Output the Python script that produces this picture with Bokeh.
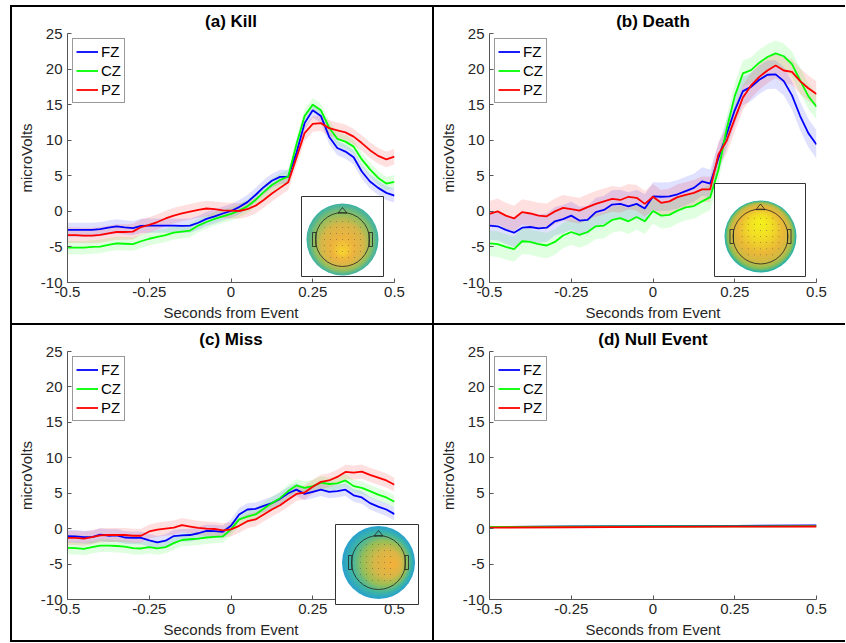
import numpy as np
from bokeh.plotting import figure
from bokeh.models import Range1d, FixedTicker, Legend, LegendItem, Div, Spacer
from bokeh.layouts import row, column
from bokeh.embed import file_html
from bokeh.resources import INLINE

# ---------------- data ----------------
time_s = np.round(np.arange(41) * 0.025 - 0.5, 3).tolist()
channels = ["FZ", "CZ", "PZ"]

kill_fz = [-2.6, -2.6, -2.6, -2.6, -2.5, -2.3, -2.1, -2.25, -2.35, -2.05, -2.0, -2.0, -2.0, -2.0,
           -2.05, -2.0, -1.6, -1.05, -0.7, -0.3, 0.05, 0.6, 1.3, 2.3, 3.4, 4.3, 4.85, 4.85, 8.2,
           12.4, 14.2, 13.4, 10.5, 8.9, 8.4, 7.6, 5.6, 4.2, 3.3, 2.6, 2.2]
kill_cz = [-5.1, -5.1, -5.1, -5.0, -4.95, -4.7, -4.5, -4.55, -4.6, -4.2, -3.85, -3.6, -3.35, -3.0,
           -2.85, -2.7, -2.0, -1.5, -1.05, -0.7, -0.35, 0.1, 0.7, 1.6, 2.7, 3.7, 4.4, 4.9, 9.4,
           13.4, 15.0, 14.2, 11.8, 10.2, 9.8, 9.1, 7.3, 5.9, 4.7, 3.9, 4.15]
kill_pz = [-3.35, -3.35, -3.4, -3.4, -3.3, -3.1, -2.9, -2.9, -2.85, -2.2, -1.9, -1.5, -1.0, -0.6,
           -0.3, -0.05, 0.2, 0.4, 0.3, 0.15, 0.1, 0.05, 0.3, 0.8, 1.6, 2.5, 3.3, 4.1, 7.5,
           11.0, 12.3, 12.4, 11.7, 11.4, 11.1, 10.5, 9.6, 8.6, 7.8, 7.3, 7.7]

death_fz = [-2.0, -2.1, -2.6, -3.0, -2.3, -2.2, -2.4, -2.3, -1.4, -1.1, -0.6, -1.3, -1.2, -0.1,
            0.2, 0.95, 1.05, 0.7, 1.05, 0.4, 2.1, 2.05, 2.1, 2.4, 2.85, 3.3, 4.2, 3.9, 7.5,
            10.8, 14.2, 16.9, 17.5, 18.5, 19.2, 19.25, 18.3, 16.3, 13.4, 11.0, 9.4]
death_cz = [-4.5, -4.6, -5.0, -5.3, -4.2, -4.3, -4.6, -4.8, -4.3, -3.4, -2.9, -3.3, -2.9, -2.1,
            -2.0, -1.2, -0.95, -1.4, -0.8, -1.4, 0.05, -0.6, -0.5, 0.1, 0.55, 0.75, 1.4, 2.0, 5.8,
            11.5, 16.2, 19.4, 19.85, 20.9, 21.7, 22.2, 21.8, 20.7, 18.4, 16.2, 14.7]
death_pz = [-0.35, 0.0, -0.6, -1.0, -0.1, -0.3, -0.6, -0.7, 0.0, 0.5, 0.3, 0.1, 0.6, 1.05,
            1.4, 1.75, 1.6, 2.05, 1.9, 1.05, 2.05, 1.2, 1.4, 2.0, 2.3, 2.6, 3.1, 3.1, 8.0,
            9.9, 13.0, 16.0, 17.7, 18.9, 19.8, 20.5, 19.8, 19.6, 18.3, 17.3, 16.5]

miss_fz = [-1.05, -1.1, -1.2, -1.2, -0.85, -1.0, -0.95, -1.25, -1.3, -1.3, -1.65, -1.95, -1.7, -1.05,
           -0.95, -0.9, -0.65, -0.3, -0.35, -0.45, 0.4, 2.0, 2.7, 2.8, 3.2, 3.6, 4.2, 5.0, 5.5,
           4.9, 5.2, 5.5, 5.2, 5.3, 5.5, 4.7, 4.4, 3.6, 3.1, 2.7, 2.05]
miss_cz = [-2.7, -2.75, -2.85, -2.6, -2.4, -2.4, -2.45, -2.55, -2.75, -2.8, -2.6, -2.8, -2.6, -2.05,
           -1.6, -1.5, -1.4, -1.25, -1.15, -1.1, -0.1, 1.3, 1.7, 2.0, 2.8, 3.6, 4.3, 5.3, 6.1,
           5.75, 6.0, 6.5, 6.3, 6.4, 6.8, 6.0, 5.75, 5.3, 4.8, 4.4, 3.8]
miss_pz = [-1.3, -1.3, -1.4, -1.2, -0.95, -0.9, -0.9, -0.9, -1.0, -1.0, -0.4, -0.15, 0.0, 0.15,
           0.5, 0.3, 0.1, 0.0, -0.05, -0.25, -0.1, 0.4, 1.05, 1.3, 2.0, 2.7, 3.3, 4.1, 4.9,
           5.1, 5.9, 6.6, 6.8, 7.3, 8.0, 7.9, 8.05, 7.6, 7.2, 6.8, 6.2]

null_time = [-0.5, -0.25, 0.0, 0.25, 0.5]
null_fz = [0.25, 0.3, 0.35, 0.4, 0.45]
null_cz = [0.25, 0.28, 0.3, 0.32, 0.35]
null_pz = [0.15, 0.2, 0.25, 0.28, 0.3]

kill_sem = [1.0, 0.95, 1.1]
death_sem = [2.0, 1.8, 1.8]
miss_sem = [0.9, 0.9, 1.0]
null_sem = [0.1, 0.1, 0.1]

titles = ["(a) Kill", "(b) Death", "(c) Miss", "(d) Null Event"]
x_ticks = [-0.5, -0.25, 0, 0.25, 0.5]
x_tick_labels = ["-0.5", "-0.25", "0", "0.25", "0.5"]
y_ticks = [-10, -5, 0, 5, 10, 15, 20, 25]
y_tick_labels = ["-10", "-5", "0", "5", "10", "15", "20", "25"]
x_label = "Seconds from Event"
y_label = "microVolts"

# ---------------- style ----------------
FONT = "Liberation Sans"
COLORS = ["#0000ff", "#00ff00", "#ff0000"]
AXIS_COL = "#555555"
TXT_COL = "#262626"


def hex2rgb(h):
    h = h.lstrip("#")
    return [int(h[i:i + 2], 16) for i in (0, 2, 4)]


def interp_color(stops, f):
    for (p0, c0), (p1, c1) in zip(stops[:-1], stops[1:]):
        if p0 <= f <= p1:
            w = (f - p0) / (p1 - p0) if p1 > p0 else 0
            a, b = hex2rgb(c0), hex2rgb(c1)
            rgb = [int(round(a[k] + (b[k] - a[k]) * w)) for k in range(3)]
            return "#%02x%02x%02x" % tuple(rgb)
    return stops[-1][1]


def add_topo(p, box, center, R, rh, stops, hot):
    kw = dict(x_range_name="ix", y_range_name="iy", level="annotation")
    bx0, by0, bx1, by1 = box
    cx, cy = center
    p.quad(left=[bx0], right=[bx1], bottom=[by0], top=[by1], fill_color="white",
           line_color="#333333", line_width=1, **kw)
    N = 36
    xs, ys, sz, cols = [], [], [], []
    for i in range(N):
        f = i / (N - 1)
        r = R * (1 - 0.95 * f)
        xs.append(cx + hot[0] * R * f)
        ys.append(cy + hot[1] * R * f)
        sz.append(2 * r)
        cols.append(interp_color(stops, f))
    p.scatter(x=xs, y=ys, size=sz, fill_color=cols, line_color=None, marker="circle", **kw)
    # electrode dots
    sp = rh / 4.5
    dx, dy = [], []
    for i in range(-5, 6):
        for j in range(-5, 6):
            if (i * sp) ** 2 + (j * sp) ** 2 < (0.86 * rh) ** 2:
                dx.append(cx + i * sp)
                dy.append(cy + j * sp)
    p.scatter(x=dx, y=dy, size=1.0, fill_color="#444444", fill_alpha=0.6, line_color=None,
              marker="circle", **kw)
    # head outline, nose, ears
    p.scatter(x=[cx], y=[cy], size=2 * rh, fill_color=None, line_color="#222222",
              line_width=0.8, marker="circle", **kw)
    p.patch(x=[cx - 4.5, cx, cx + 4.5], y=[cy + rh - 0.6, cy + rh + 5, cy + rh - 0.6],
            fill_color=None, line_color="#222222", line_width=0.8, **kw)
    p.quad(left=[cx - rh - 3, cx + rh - 0.5], right=[cx - rh + 0.5, cx + rh + 3],
           bottom=[cy - 7, cy - 7], top=[cy + 7, cy + 7], fill_color=None,
           line_color="#222222", line_width=0.8, **kw)


def make_panel(title, times, series, sems, width, height, left, right, top, bottom, topo=None):
    p = figure(width=width, height=height, x_range=Range1d(-0.5, 0.5), y_range=Range1d(-10, 25),
               output_backend="svg", toolbar_location=None, title=title,
               min_border_left=left, min_border_right=right, min_border_top=top,
               min_border_bottom=bottom, outline_line_color=None,
               background_fill_color="white", border_fill_color="white")
    p.title.align = "center"
    p.title.text_font = FONT
    p.title.text_font_size = "17px"
    p.title.text_font_style = "bold"
    p.title.text_color = "black"
    try:
        p.title.standoff = 5
    except AttributeError:
        pass
    p.xgrid.visible = False
    p.ygrid.visible = False

    p.xaxis.ticker = FixedTicker(ticks=x_ticks)
    p.xaxis.major_label_overrides = {float(k): v for k, v in zip(x_ticks, x_tick_labels)}
    p.yaxis.ticker = FixedTicker(ticks=y_ticks)
    p.yaxis.major_label_overrides = {float(k): v for k, v in zip(y_ticks, y_tick_labels)}
    p.xaxis.axis_label = x_label
    p.yaxis.axis_label = y_label
    for ax in (p.xaxis, p.yaxis):
        ax.axis_line_color = AXIS_COL
        ax.axis_line_width = 1
        ax.major_tick_line_color = AXIS_COL
        ax.major_tick_in = 4
        ax.major_tick_out = 0
        ax.minor_tick_in = 0
        ax.minor_tick_out = 0
        ax.major_label_text_font = FONT
        ax.major_label_text_font_size = "15px"
        ax.major_label_text_color = TXT_COL
        ax.axis_label_text_font = FONT
        ax.axis_label_text_font_size = "15px"
        ax.axis_label_text_font_style = "normal"
        ax.axis_label_text_color = TXT_COL
    p.xaxis.major_label_standoff = 4
    p.yaxis.major_label_standoff = 5
    p.xaxis.axis_label_standoff = 4
    p.yaxis.axis_label_standoff = 3

    fw = width - left - right
    fh = height - top - bottom
    p.extra_x_ranges = {"ix": Range1d(0, fw)}
    p.extra_y_ranges = {"iy": Range1d(0, fh)}

    for vals, sem, col in zip(series, sems, COLORS):
        lo = [v - sem for v in vals]
        hi = [v + sem for v in vals]
        p.varea(x=times, y1=lo, y2=hi, fill_color=col, fill_alpha=0.12)
    items = []
    for vals, col, name in zip(series, COLORS, channels):
        r = p.line(times, vals, line_color=col, line_width=1.8)
        items.append(LegendItem(label=name, renderers=[r]))
    leg = Legend(items=items, location="top_left", margin=5, padding=3, spacing=0,
                 glyph_width=22, glyph_height=19, label_height=19, label_standoff=3,
                 label_text_font=FONT, label_text_font_size="15px", label_text_color="black",
                 border_line_color="#333333", border_line_width=1,
                 background_fill_color="white", background_fill_alpha=1.0)
    p.add_layout(leg)

    if topo is not None:
        add_topo(p, **topo)
    return p


topo_a = dict(box=(234, 6, 316, 86), center=(275, 43), R=36, rh=27,
              stops=[(0, "#41b3a3"), (0.2, "#8fbf60"), (0.42, "#d6b749"), (0.7, "#edb33f"),
                     (1.0, "#f7d130")], hot=(0.0, -0.35))
topo_b = dict(box=(225, 6, 316, 99), center=(271, 46), R=36, rh=27.5,
              stops=[(0, "#2bb3a8"), (0.07, "#88be55"), (0.18, "#cdb944"), (0.38, "#eab838"),
                     (0.68, "#f1dc26"), (1.0, "#f4f01c")], hot=(0.0, 0.4))
topo_c = dict(box=(268, -5, 351, 75), center=(311, 37), R=36.5, rh=27,
              stops=[(0, "#2aa2cc"), (0.18, "#3fb6a3"), (0.4, "#98bf57"), (0.65, "#d8b748"),
                     (1.0, "#f3b13b")], hot=(0.4, -0.05))

W_L, W_R = 420, 411
H_T, H_B = 316, 315

pa = make_panel(titles[0], time_s, [kill_fz, kill_cz, kill_pz], kill_sem,
                W_L, H_T, 55, 38, 26, 41, topo_a)
pb = make_panel(titles[1], time_s, [death_fz, death_cz, death_pz], death_sem,
                W_R, H_T, 55, 29, 26, 41, topo_b)
pc = make_panel(titles[2], time_s, [miss_fz, miss_cz, miss_pz], miss_sem,
                W_L, H_B, 55, 38, 26, 41, topo_c)
pd = make_panel(titles[3], null_time, [null_fz, null_cz, null_pz], null_sem,
                W_R, H_B, 55, 29, 26, 41, None)

LINES_W = 2 + W_L + 2 + W_R


def hline():
    return Div(text="", width=LINES_W, height=2, margin=0, styles={"background-color": "black"})


def vline(h):
    return Div(text="", width=2, height=h, margin=0, styles={"background-color": "black"})


grid = column(hline(),
              row(vline(H_T), pa, vline(H_T), pb, spacing=0),
              hline(),
              row(vline(H_B), pc, vline(H_B), pd, spacing=0),
              hline(), spacing=0)

layout = column(Spacer(height=5, width=10, margin=0),
                row(Spacer(width=10, height=10, margin=0), grid, spacing=0),
                spacing=0)

open("out.html", "w").write(file_html(layout, INLINE))
